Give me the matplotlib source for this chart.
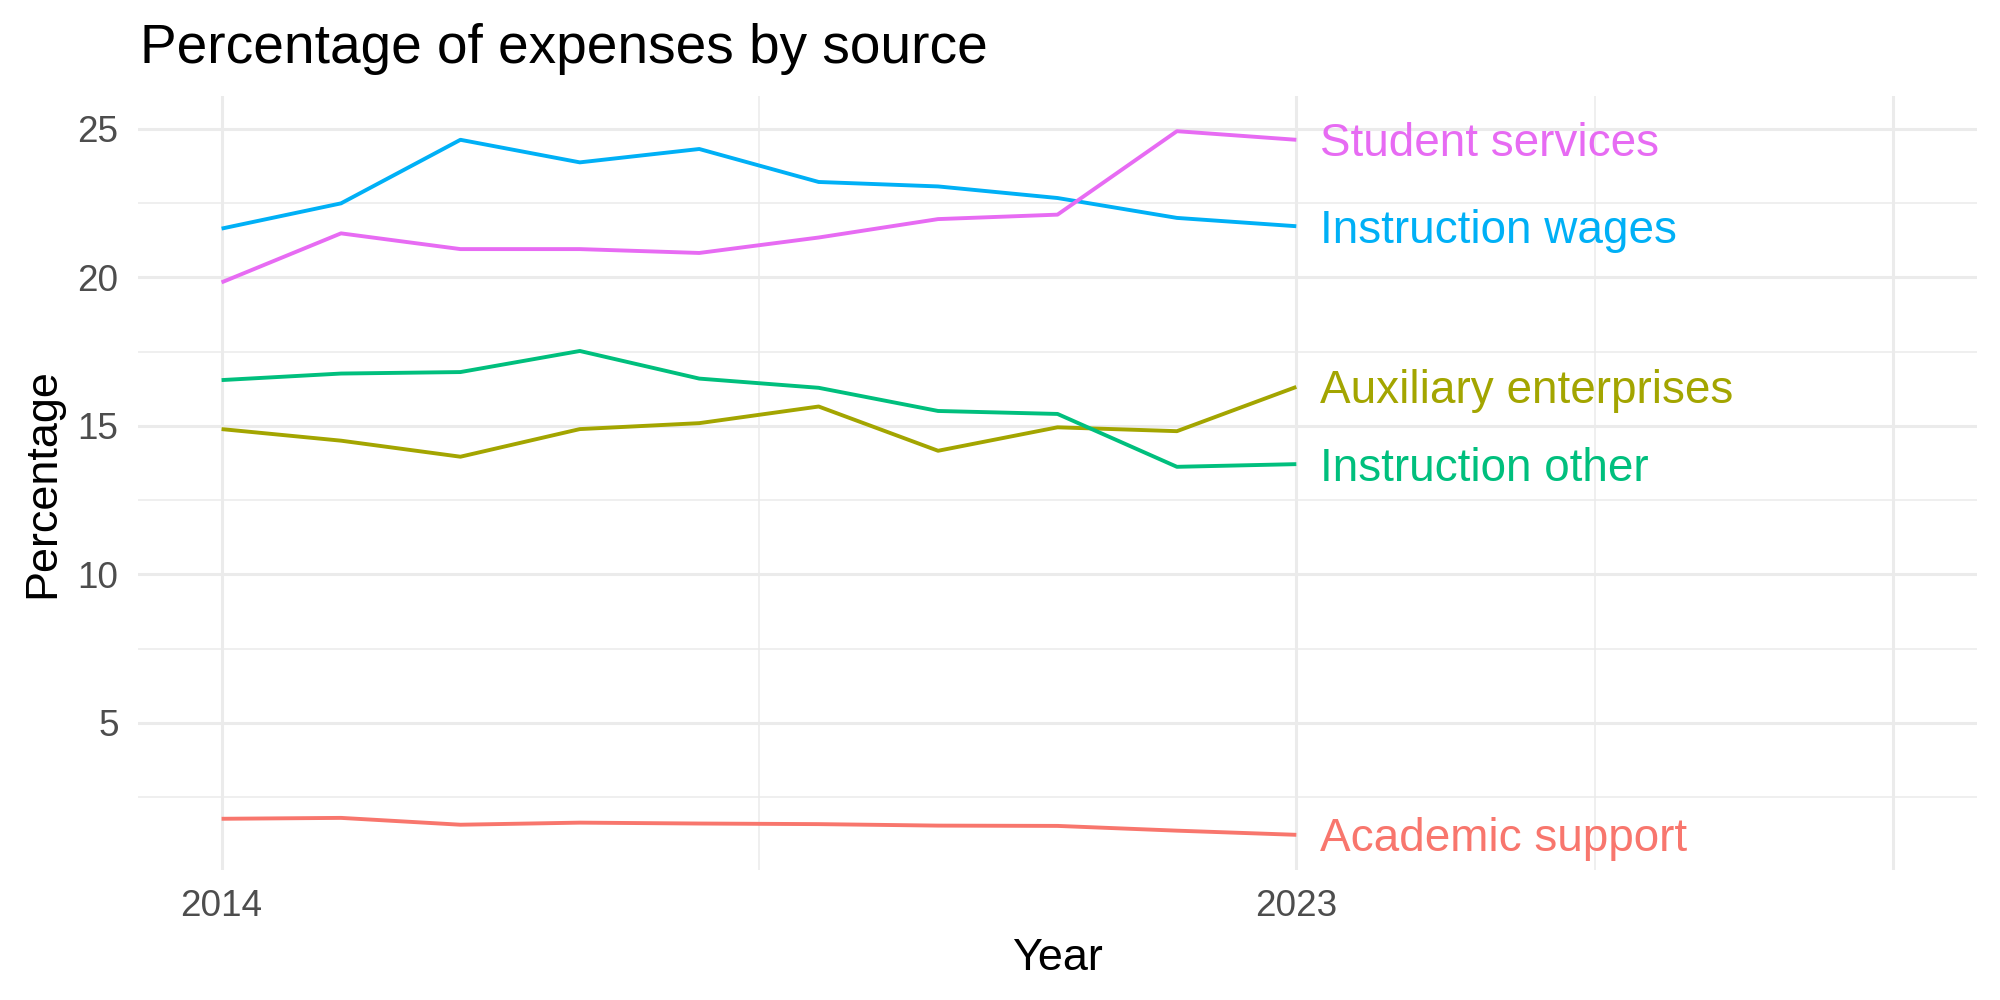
import matplotlib
matplotlib.use("Agg")
import matplotlib.pyplot as plt
import numpy as np

plt.rcParams['font.family'] = ['Liberation Sans', 'DejaVu Sans']

years = np.arange(2014, 2024)

academic_support = [1.77, 1.80, 1.57, 1.64, 1.61, 1.59, 1.54, 1.53, 1.37, 1.23]
auxiliary_enterprises = [14.89, 14.50, 13.96, 14.89, 15.09, 15.65, 14.16, 14.95, 14.82, 16.31]
instruction_other = [16.54, 16.76, 16.81, 17.52, 16.59, 16.28, 15.50, 15.40, 13.62, 13.71]
instruction_wages = [21.64, 22.49, 24.63, 23.87, 24.32, 23.21, 23.06, 22.67, 22.00, 21.72]
student_services = [19.83, 21.48, 20.95, 20.95, 20.82, 21.34, 21.96, 22.11, 24.92, 24.63]

series = {
    "Academic support": academic_support,
    "Auxiliary enterprises": auxiliary_enterprises,
    "Instruction other": instruction_other,
    "Instruction wages": instruction_wages,
    "Student services": student_services,
}
colors = ["#F8766D", "#A3A500", "#00BF7D", "#00B0F6", "#E76BF3"]

x_breaks = [2014, 2023, 2028]
x_labels = ["2014", "2023", ""]
y_breaks = [5, 10, 15, 20, 25]

fig = plt.figure(figsize=(10, 5), dpi=200)
ax = fig.add_axes([0.069, 0.130, 0.9195, 0.774])

for (name, vals), c in zip(series.items(), colors):
    ax.plot(years, vals, color=c, linewidth=1.4, solid_capstyle='butt', zorder=3)
    # ggplot centres text a little lower than matplotlib does
    ax.text(years[-1] + 0.2, vals[-1] - 0.15, name, color=c, fontsize=16.5,
            ha='left', va='center', zorder=4)

# ggplot-like expansion
xmin, xmax = 2014, 2028
xpad = (xmax - xmin) * 0.05
ax.set_xlim(xmin - xpad, xmax + xpad)
allv = np.concatenate([np.array(v) for v in series.values()])
ypad = (allv.max() - allv.min()) * 0.05
ax.set_ylim(allv.min() - ypad, allv.max() + ypad)

ax.set_xticks(x_breaks)
ax.set_xticklabels(x_labels)
ax.set_xticks([2018.5, 2025.5], minor=True)
ax.set_yticks(y_breaks)
ax.set_yticks([2.5, 7.5, 12.5, 17.5, 22.5], minor=True)

ax.grid(which='major', color='#EBEBEB', linewidth=1.1, zorder=0)
ax.grid(which='minor', color='#EBEBEB', linewidth=0.55, zorder=0)
ax.set_axisbelow(True)
for s in ax.spines.values():
    s.set_visible(False)
ax.tick_params(which='both', length=0)
ax.tick_params(axis='both', labelsize=13.3, labelcolor='#4D4D4D', pad=7)

ax.set_xlabel("Year", fontsize=16.2, labelpad=5)
ax.set_ylabel("Percentage", fontsize=16.2, labelpad=5)
fig.text(0.07, 0.951, "Percentage of expenses by source", fontsize=19.8,
         ha='left', va='center')

fig.savefig("out.png", dpi=200)
